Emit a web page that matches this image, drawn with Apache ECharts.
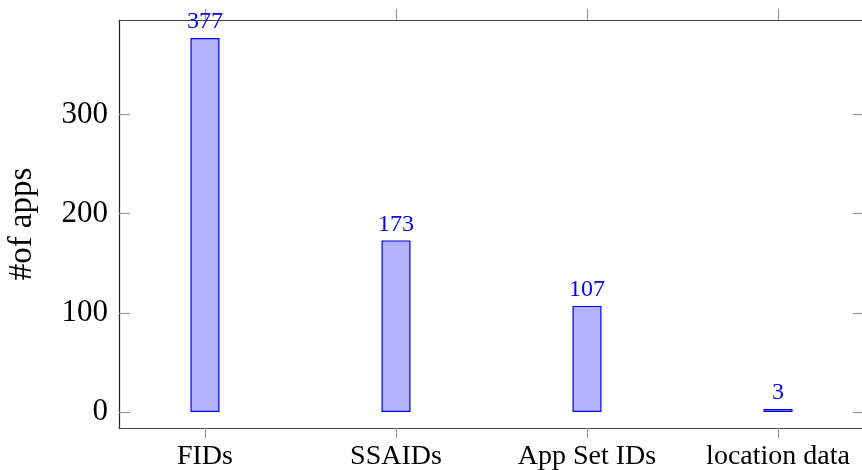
<!DOCTYPE html>
<html>
<head>
<meta charset="utf-8">
<script src="https://cdn.jsdelivr.net/npm/echarts@6/dist/echarts.min.js"></script>
<style>html,body{margin:0;padding:0;background:#fff}#c{width:862px;height:470px}</style>
</head>
<body>
<div id="c"></div>
<script>
const categories = ["FIDs", "SSAIDs", "App Set IDs", "location data"];
const values = [377, 173, 107, 3];
const yTicks = [0, 100, 200, 300];

const chart = echarts.init(document.getElementById('c'), null, {renderer: 'canvas'});
const font = '"Liberation Serif", "DejaVu Serif", serif';
const catIdx = categories.map((_, i) => i);
const lineStyle = {color: '#444', width: 1.2};
chart.setOption({
  animation: false,
  grid: {left: 119, top: 20, width: 745, height: 408, containLabel: false, outerBoundsMode: 'none'},
  xAxis: [{
    type: 'value', min: -0.45, max: 3.45, position: 'bottom',
    axisLine: {show: true, onZero: false, lineStyle: lineStyle},
    axisTick: {show: true, inside: false, length: 10, customValues: catIdx, lineStyle: {color: '#999', width: 1.2}},
    axisLabel: {show: true, customValues: catIdx, margin: 15, fontFamily: font, fontSize: 28, color: '#000',
      formatter: v => categories[Math.round(v)]},
    splitLine: {show: false}
  }, {
    type: 'value', min: -0.45, max: 3.45, position: 'top',
    axisLine: {show: true, onZero: false, lineStyle: lineStyle},
    axisTick: {show: true, inside: false, length: 11, customValues: catIdx, lineStyle: {color: '#999', width: 1.2}},
    axisLabel: {show: false},
    splitLine: {show: false}
  }],
  yAxis: [{
    type: 'value', min: -16.1, max: 395.2, position: 'left',
    name: '#of apps', nameLocation: 'middle', nameGap: 80, nameRotate: 90,
    nameTextStyle: {fontFamily: font, fontSize: 33, color: '#000'},
    axisLine: {show: true, onZero: false, lineStyle: {color: '#222', width: 1.2}},
    axisTick: {show: true, inside: true, length: 11, customValues: yTicks, lineStyle: {color: '#999', width: 1.2}},
    axisLabel: {show: true, customValues: yTicks, margin: 11, fontFamily: font, fontSize: 31, color: '#000'},
    splitLine: {show: false}
  }, {
    type: 'value', min: -16.1, max: 395.2, position: 'right',
    axisLine: {show: true, onZero: false, lineStyle: lineStyle},
    axisTick: {show: true, inside: true, length: 11, customValues: yTicks, lineStyle: {color: '#999', width: 1.2}},
    axisLabel: {show: false},
    splitLine: {show: false}
  }],
  series: [{
    type: 'bar',
    xAxisIndex: 0, yAxisIndex: 0,
    barWidth: 29,
    data: values.map((v, i) => [i, v]),
    itemStyle: {color: '#b3b3ff', borderColor: '#0000ff', borderWidth: 1.2},
    label: {show: true, position: 'top', distance: 4, fontFamily: font, fontSize: 24, color: '#0000ff',
      formatter: p => String(p.value[1])}
  }]
});
</script>
</body>
</html>
